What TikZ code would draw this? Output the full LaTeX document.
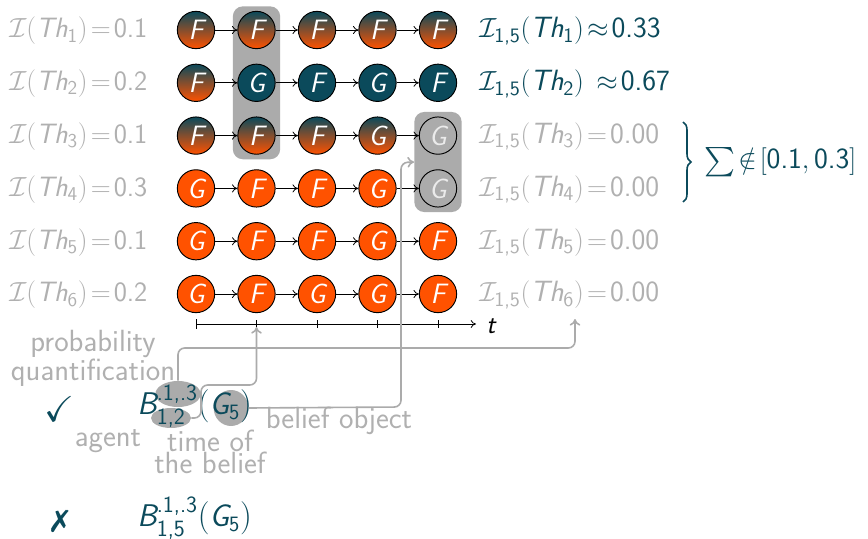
\documentclass[tikz,border=0pt]{standalone}
\usepackage{amsmath,amssymb}
\usepackage{pifont}
\usepackage{fontspec}
\usetikzlibrary{arrows.meta,shapes.geometric,fit,backgrounds,decorations.pathreplacing,calc}
\definecolor{myteal}{HTML}{0B4A5B}
\definecolor{myorange}{HTML}{FF5200}
\definecolor{boxgray}{HTML}{ABABAB}
\definecolor{txtgray}{HTML}{B0B0B0}
\newcommand\sfi[1]{\text{\sffamily\itshape #1}}
\newcommand\sfu[1]{\text{\sffamily\upshape #1}}
\newcommand\sss[1]{\text{\fontsize{17.5}{18}\selectfont\sffamily\upshape #1}}
\tikzset{
  st/.style={circle,draw=black,line width=0.7pt,minimum size=28pt,inner sep=0pt,text=white,font=\fontsize{21}{22}\selectfont\sffamily\itshape},
  stg/.style={st,shading=axis,top color=myteal,bottom color=myorange},
  stt/.style={st,fill=myteal},
  sto/.style={st,fill=myorange},
  stx/.style={st,fill=boxgray,text=black!8},
  trans/.style={-{To[length=4pt,width=6pt]},line width=0.6pt,black},
  lbl/.style={inner sep=0pt,font=\fontsize{21}{24}\selectfont\sffamily},
  rlbl/.style={inner sep=0pt,anchor=west,font=\fontsize{22}{24}\selectfont\sffamily},
  glbl/.style={inner sep=0pt,text=txtgray,font=\fontsize{23}{16.5}\selectfont\sffamily,align=center},
  hbox/.style={rounded corners=7.5pt,fill=boxgray,inner sep=3.4pt},
  conn/.style={draw=boxgray,line width=1.2pt,rounded corners=5pt,-{To[length=5pt,width=8pt]}},
  blob/.style={ellipse,fill=boxgray,inner sep=0pt},
  form/.style={inner sep=0pt,text=myteal,font=\fontsize{23.5}{24}\selectfont\sffamily,anchor=west},
}
\begin{document}
\begin{tikzpicture}[x=0.75pt,y=-0.75pt]
\useasboundingbox (0,0) rectangle (868,539);
% states
\foreach \r/\y/\lst in {
  1/30/{g/F,g/F,g/F,g/F,g/F},
  2/82.8/{g/F,t/G,t/F,t/G,t/F},
  3/135.6/{g/F,g/F,g/F,g/G,x/G},
  4/188.4/{o/G,o/F,o/F,o/G,x/G},
  5/241.2/{o/G,o/F,o/F,o/G,o/F},
  6/294/{o/G,o/F,o/G,o/G,o/F}}{
  \foreach \s/\l [count=\c] in \lst {
    \node[st\s] (n\r\c) at ({196+60.5*(\c-1)},\y) {\l};
  }
}
% highlight boxes
\begin{scope}[on background layer]
  \node[hbox,fit=(n12)(n32)] (box1) {};
  \node[hbox,fit=(n35)(n45)] (box2) {};
\end{scope}
% transitions
\foreach \r in {1,...,6}{
  \foreach \c [evaluate=\c as \d using int(\c+1)] in {1,...,4}{
    \draw[trans] (n\r\c) -- (n\r\d);
  }
}
% left labels
\foreach \r/\v in {1/0.1,2/0.2,3/0.1,4/0.3,5/0.1,6/0.2}{
  \node[lbl,text=txtgray,anchor=west] (L\r) at (9,{31+52.8*(\r-1)}) {$\mathcal{I}(\sfi{Th}_{\sfu{\r}})\!=\!\sfu{\v}$};
}
% right labels
\node[rlbl,text=myteal] (R1) at (479,31) {$\mathcal{I}_{\sfu{1,5}}(\sfi{Th}_{\sfu{1}})\!\approx\!\sfu{0.33}$};
\node[rlbl,text=myteal] (R2) at (479,83.8) {$\mathcal{I}_{\sfu{1,5}}(\sfi{Th}_{\sfu{2}})\,\approx\!\sfu{0.67}$};
\foreach \r in {3,4,5,6}{
  \node[rlbl,text=txtgray] (R\r) at (479,{31+52.8*(\r-1)}) {$\mathcal{I}_{\sfu{1,5}}(\sfi{Th}_{\sfu{\r}})\!=\!\sfu{0.00}$};
}
% brace
\coordinate (bt) at (683,122);
\coordinate (bb) at (683,202);
\draw[myteal,line width=1.2pt,decorate,decoration={brace,amplitude=6pt}] (bt) -- (bb);
\node[inner sep=0pt,anchor=west,text=myteal,font=\fontsize{22}{24}\selectfont\sffamily] (sum) at (704,162) {$\sum\!\notin\![\sfu{0.1}, \sfu{0.3}]$};
% time axis
\coordinate (ax0) at (196,324);
\coordinate (ax1) at (476,324);
\draw[black,line width=0.6pt,{Bar[width=7pt]}-{To[length=4pt,width=6pt]}] (ax0) -- (ax1);
\foreach \c in {2,...,5}{
  \draw[black,line width=0.6pt] ({196+60.5*(\c-1)},320) -- ({196+60.5*(\c-1)},328);
}
\node[lbl,font=\fontsize{20}{22}\selectfont\sffamily\itshape,anchor=west] (t) at (486,326) {t};
% belief formula blobs
\node[blob,minimum width=34pt,minimum height=19.5pt] (eq) at (178,394) {};
\node[blob,minimum width=30pt,minimum height=15pt] (ea) at (171,418) {};
\node[blob,minimum width=26pt,minimum height=27pt] (eo) at (231,408) {};
\node[form] (form1) at (137,406) {$\sfi{B}^{\sss{.1,.3}}_{\sss{1,2}}(\sfi{G}_{\sfu{5}})$};
\node[inner sep=0pt,text=myteal,font=\fontsize{27}{28}] (chk) at (59,409) {$\checkmark$};
\node[form] (form2) at (137,518) {$\sfi{B}^{\sss{.1,.3}}_{\sss{1,5}}(\sfi{G}_{\sfu{5}})$};
\node[inner sep=0pt,text=myteal,font=\fontsize{23}{24}\selectfont] (crs) at (60,521) {\ding{55}};
% gray labels
\node[glbl] (prob) at (93,358) {probability\\quantification};
\node[glbl] (agent) at (108,441) {agent};
\node[glbl] (time) at (210,452) {time of\\the belief};
\node[glbl] (obj) at (339,421) {belief object};
% connectors
\coordinate (tk2) at (256.5,327);
\coordinate (pq) at (575,319);
\draw[conn] (ea.east) -- (201,418) -- (201,385) -- (256.5,385) -- (tk2);
\draw[conn] (eq.north) -- (178,348) -- (575,348) -- (pq);
\draw[conn] (eo.east) -- (401,407) -- (401,162.5) -- (box2.west);
\end{tikzpicture}
\end{document}
